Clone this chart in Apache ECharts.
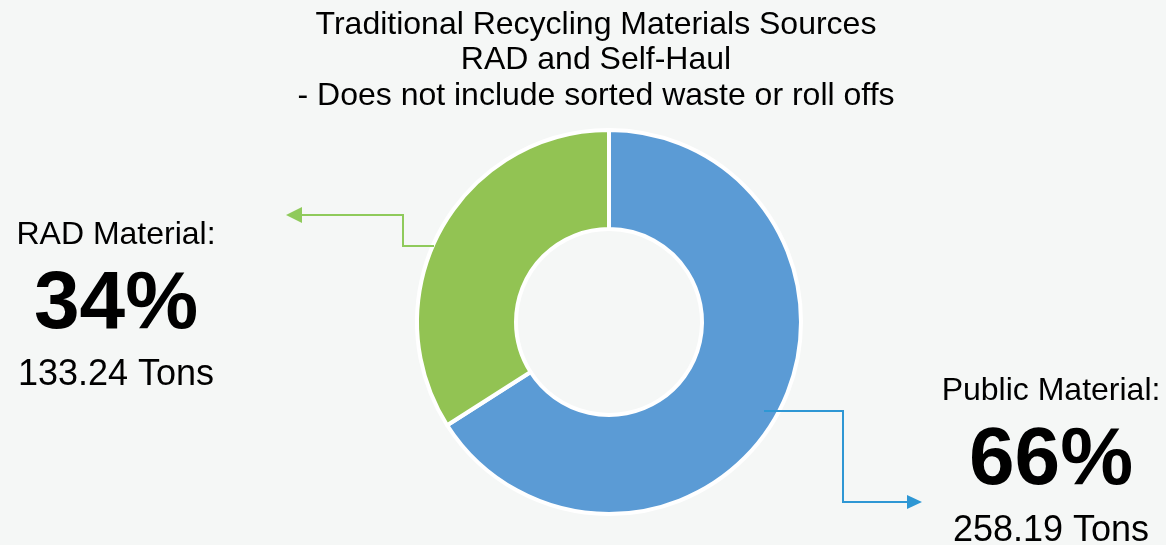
<!DOCTYPE html>
<html>
<head>
<meta charset="utf-8">
<script src="https://cdn.jsdelivr.net/npm/echarts@6/dist/echarts.min.js"></script>
<style>
  html, body { margin: 0; padding: 0; background: #f5f7f6; }
  #chart-container { width: 1166px; height: 545px; }
</style>
</head>
<body>
<div id="chart-container"></div>
<script>
// data
const sourceNames = ['Public Material', 'RAD Material'];
const sourceTons = [258.19, 133.24];
const sliceColors = ['#5b9bd5', '#92c353'];
const titleLines = [
    'Traditional Recycling Materials Sources',
    'RAD and Self-Haul',
    '- Does not include sorted waste or roll offs'
];

const chartContainer = document.getElementById('chart-container');
const myChart = echarts.init(chartContainer);

const fontFamily = '"Liberation Sans", Arial, sans-serif';

const seriesData = sourceNames.map((name, i) => ({
    name: name,
    value: sourceTons[i],
    itemStyle: { color: sliceColors[i] }
}));

// where each label block sits (top centre)
const labelSpots = [
    { x: 1051, y: 371 },
    { x: 116, y: 215 }
];

// arrow from slice to label
const arrowSpecs = [
    { color: '#2e97d4', points: [[764, 411], [843, 411], [843, 502], [908, 502]], head: [[907, 495], [922, 502], [907, 509]] },
    { color: '#8fca5b', points: [[434, 246], [403, 246], [403, 215], [300, 215]], head: [[302, 207], [286, 215], [302, 223]] }
];

const graphics = [];
arrowSpecs.forEach(a => {
    graphics.push({
        type: 'polyline',
        shape: { points: a.points },
        style: { stroke: a.color, lineWidth: 2, fill: null },
        z: 100
    });
    graphics.push({
        type: 'polygon',
        shape: { points: a.head },
        style: { fill: a.color },
        z: 100
    });
});

const options = {
    backgroundColor: '#f5f7f6',
    title: {
        text: titleLines.join('\n'),
        left: 591,
        top: 2,
        textAlign: 'center',
        textStyle: {
            fontFamily: fontFamily,
            fontSize: 32,
            fontWeight: 'normal',
            lineHeight: 35.5,
            color: '#000'
        }
    },
    graphic: graphics,
    series: [{
        type: 'pie',
        center: [609, 322],
        radius: [93, 192],
        startAngle: 90,
        clockwise: true,
        animation: false,
        itemStyle: {
            borderColor: '#ffffff',
            borderWidth: 4
        },
        label: {
            show: true,
            fontFamily: fontFamily,
            color: '#000',
            formatter: function (p) {
                return '{a|' + p.name + ':}\n{b|' + Math.round(p.percent) + '%}\n{c|' + p.value.toFixed(2) + ' Tons}';
            },
            rich: {
                a: { fontFamily: fontFamily, fontSize: 32, lineHeight: 40, color: '#000', align: 'center' },
                b: { fontFamily: fontFamily, fontSize: 82, fontWeight: 'bold', lineHeight: 100, color: '#000', align: 'center' },
                c: { fontFamily: fontFamily, fontSize: 36, lineHeight: 40, color: '#000', align: 'center' }
            }
        },
        labelLine: { show: false },
        labelLayout: function (params) {
            const spot = labelSpots[params.dataIndex];
            return {
                x: spot.x,
                y: spot.y,
                align: 'center',
                verticalAlign: 'top',
                hideOverlap: false
            };
        },
        data: seriesData
    }]
};

myChart.setOption(options);

window.addEventListener('resize', function () {
    myChart.resize();
});
</script>
</body>
</html>
